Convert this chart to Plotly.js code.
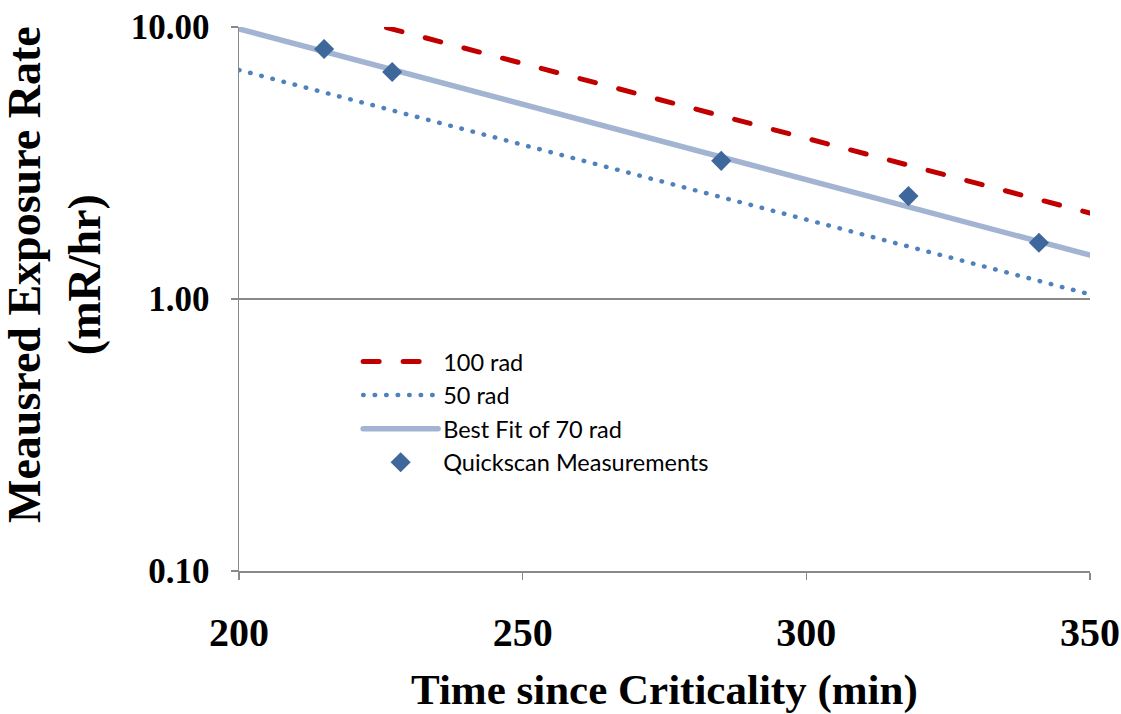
<!DOCTYPE html>
<html>
<head>
<meta charset="utf-8">
<script src="https://cdn.plot.ly/plotly-3.0.1.min.js"></script>
<style>
  html, body { margin: 0; padding: 0; background: #fff; }
  #chart { width: 1121px; height: 714px; }
  /* rounded ends for dashes and dots */
  #chart .js-line { stroke-linecap: round; }
</style>
</head>
<body>
<div id="chart"></div>
<script>
// Reference dose curves (exposure rate vs. time since criticality)
const rad100Time = [226, 350];
const rad100Rate = [9.95, 2.07];

const rad50Time = [200, 350];
const rad50Rate = [6.95, 1.04];

const fitTime = [200, 350];
const fitRate = [9.84, 1.45];

// Field measurements
const scanTime = [215, 227, 285, 318, 341];
const scanRate = [8.3, 6.83, 3.22, 2.39, 1.61];

const yTicks = [0.1, 1, 10];
const yTickText = ['0.10', '1.00', '10.00'];
const xTicks = [200, 250, 300, 350];

const serif = 'Liberation Serif, Times New Roman, serif';

const traces = [
  {
    x: rad100Time, y: rad100Rate, name: '100 rad', mode: 'lines',
    line: { color: '#C00000', width: 5, dash: '16px,24px' }
  },
  {
    x: rad50Time, y: rad50Rate, name: '50 rad', mode: 'lines',
    line: { color: '#4F81BD', width: 4.5, dash: '0.5px,11px' }
  },
  {
    x: fitTime, y: fitRate, name: 'Best Fit of 70 rad', mode: 'lines',
    line: { color: '#A3B4D3', width: 5.5 }
  },
  {
    x: scanTime, y: scanRate, name: 'Quickscan Measurements', mode: 'markers',
    marker: { symbol: 'diamond', size: 15.5, color: '#3E679B' }
  }
];

const grey = '#898989';
const layout = {
  width: 1121, height: 714,
  margin: { l: 239, r: 31, t: 27, b: 143 },
  paper_bgcolor: '#fff', plot_bgcolor: '#fff',
  showlegend: true,
  legend: {
    x: 0.14, y: 0.425, xanchor: 'left', yanchor: 'top',
    bgcolor: 'rgba(0,0,0,0)',
    font: { family: 'Lato, Noto Sans, sans-serif', size: 23.5, color: '#000' },
    tracegroupgap: 0, itemwidth: 75
  },
  xaxis: {
    range: [200, 350], tickvals: xTicks, ticktext: xTicks.map(String),
    showgrid: false, zeroline: false,
    showline: true, linecolor: grey, linewidth: 1.5,
    ticks: 'outside', ticklen: 7, tickcolor: grey, tickwidth: 1.5,
    ticklabelstandoff: 18,
    tickfont: { family: serif, size: 40, color: '#000', weight: 'bold' }
  },
  yaxis: {
    type: 'log', range: [-1, 1], tickvals: yTicks, ticktext: yTickText,
    showgrid: true, gridcolor: grey, gridwidth: 1.5, zeroline: false,
    showline: true, linecolor: grey, linewidth: 1.5,
    ticks: 'outside', ticklen: 7, tickcolor: grey, tickwidth: 1.5,
    ticklabelstandoff: 14,
    tickfont: { family: serif, size: 35, color: '#000', weight: 'bold' }
  },
  annotations: [
    {
      text: '<b>Time since Criticality (min)</b>',
      xref: 'paper', yref: 'paper', x: 0.5, y: (571 - 690) / 544,
      xanchor: 'center', yanchor: 'middle', showarrow: false,
      font: { family: serif, size: 43, color: '#000' }
    },
    {
      text: '<b>Meausred Exposure Rate<br>(mR/hr)</b>',
      xref: 'paper', yref: 'paper', x: (54 - 239) / 851, y: (571 - 275) / 544,
      xanchor: 'center', yanchor: 'middle', textangle: -90, showarrow: false,
      font: { family: serif, size: 46, color: '#000' }
    }
  ]
};

Plotly.newPlot('chart', traces, layout, { displayModeBar: false, staticPlot: true });
</script>
</body>
</html>
